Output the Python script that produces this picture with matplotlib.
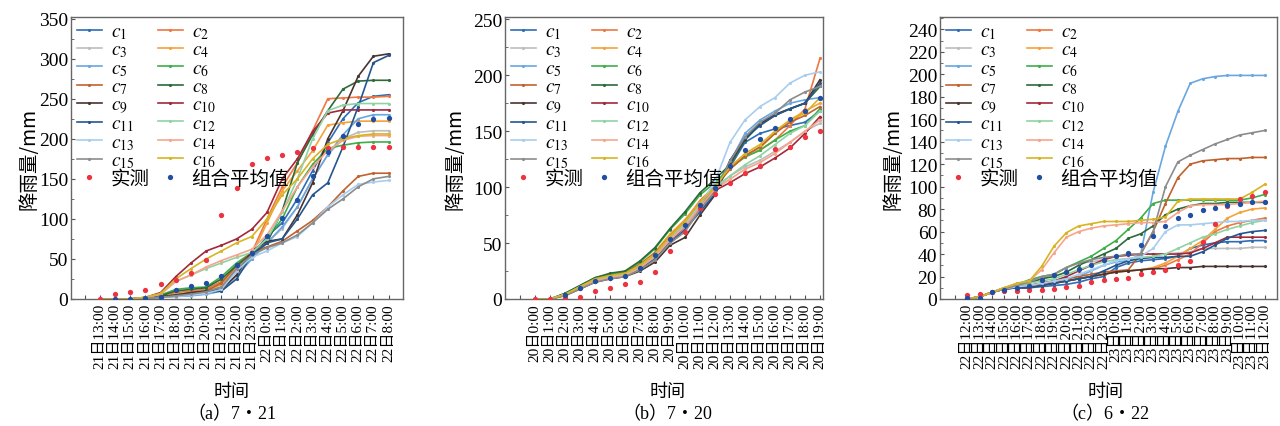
import matplotlib
matplotlib.use("Agg")
import matplotlib.pyplot as plt
from matplotlib.lines import Line2D
from matplotlib.ticker import MultipleLocator
import numpy as np

plt.rcParams['mathtext.fontset'] = 'stix'
plt.rcParams['font.family'] = ['Liberation Serif', 'Noto Sans CJK SC']

# ---------------- data ----------------
series_names = [f"c{i}" for i in range(1, 17)]
series_colors = ['#2f6db5', '#ee7742', '#bdbdbd', '#f5a23a', '#6aa6e0', '#3fae4a',
                 '#c0622d', '#2d6a3a', '#4a3431', '#a3283a', '#24568e', '#8fd3a4',
                 '#a8cdee', '#f6a58c', '#8c8c8c', '#d8b422']

# Panel (a) 7·21 : 21日13:00 ... 22日8:00
labels_a = [f"21日{h}:00" for h in range(13, 24)] + [f"22日{h}:00" for h in range(0, 9)]
obs_a = [0, 6, 9, 11, 19, 24, 32, 49, 105, 138, 169, 176, 180, 184, 188, 189, 190, 190, 190, 190]
mean_a = [None, 0, 0, 1, 3, 11, 16, 20, 29, 43, 58, 79, 101, 124, 153, 184, 204, 218, 225, 226]
sim_a = [
    [0, 0, 0, 1, 3, 5, 7, 9, 15, 35, 55, 78, 95, 125, 160, 195, 225, 245, 253, 255],     # c1
    [0, 0, 0, 1, 4, 8, 10, 12, 22, 40, 58, 100, 140, 170, 210, 250, 251, 252, 252, 253],  # c2
    [0, 0, 0, 1, 2, 3, 5, 6, 10, 28, 50, 70, 88, 115, 150, 180, 200, 208, 210, 210],      # c3
    [0, 0, 0, 1, 3, 6, 8, 10, 18, 38, 55, 95, 135, 160, 185, 217, 220, 222, 222, 222],    # c4
    [0, 0, 0, 1, 2, 3, 4, 6, 10, 30, 50, 70, 90, 115, 150, 180, 205, 225, 230, 230],      # c5
    [0, 0, 0, 2, 5, 12, 14, 15, 28, 45, 58, 75, 100, 140, 168, 188, 192, 195, 196, 196],  # c6
    [0, 0, 0, 1, 3, 5, 8, 10, 20, 42, 58, 65, 72, 85, 98, 115, 135, 153, 157, 157],       # c7
    [0, 0, 0, 2, 4, 10, 12, 14, 25, 42, 56, 70, 110, 170, 205, 235, 262, 272, 273, 273],  # c8
    [0, 0, 0, 1, 3, 5, 8, 10, 12, 30, 60, 72, 75, 105, 145, 200, 235, 278, 303, 306],     # c9
    [0, 0, 0, 2, 8, 28, 45, 60, 67, 75, 87, 108, 150, 175, 209, 232, 236, 236, 236, 236], # c10
    [0, 0, 0, 1, 2, 4, 6, 8, 10, 25, 55, 70, 75, 100, 130, 145, 190, 240, 295, 304],      # c11
    [0, 0, 0, 2, 6, 22, 30, 38, 45, 52, 58, 75, 108, 150, 200, 235, 242, 244, 244, 244],  # c12
    [0, 0, 0, 1, 2, 3, 5, 7, 12, 35, 52, 60, 70, 78, 95, 115, 130, 143, 146, 148],        # c13
    [0, 0, 0, 2, 6, 22, 30, 40, 48, 55, 62, 80, 110, 140, 165, 185, 198, 203, 204, 204],  # c14
    [0, 0, 0, 1, 2, 4, 6, 9, 15, 38, 55, 64, 70, 80, 95, 112, 125, 140, 150, 153],        # c15
    [0, 0, 0, 2, 7, 25, 38, 50, 60, 70, 78, 100, 130, 150, 175, 193, 200, 204, 206, 206], # c16
]

# Panel (b) 7·20 : 20日0:00 ... 20日19:00
labels_b = [f"20日{h}:00" for h in range(0, 20)]
obs_b = [0, 0, 1, 2, 7, 10, 13, 15, 24, 43, 60, 81, 94, 104, 113, 119, 134, 136, 145, 150]
mean_b = [None, None, 4, 10, 16, 19, 21, 28, 39, 54, 66, 84, 99, 119, 133, 143, 153, 161, 168, 180]
sim_b = [
    [0, 0, 4, 10, 17, 20, 22, 29, 40, 55, 67, 85, 100, 118, 140, 148, 152, 155, 158, 168],  # c1
    [0, 0, 4, 11, 18, 21, 23, 30, 41, 57, 70, 88, 101, 117, 127, 133, 142, 155, 170, 215],  # c2
    [0, 0, 4, 10, 16, 19, 21, 27, 37, 52, 63, 80, 97, 110, 118, 124, 132, 140, 150, 157],   # c3
    [0, 0, 4, 11, 18, 21, 23, 31, 42, 58, 71, 87, 101, 116, 128, 135, 148, 160, 168, 175],  # c4
    [0, 0, 4, 10, 17, 20, 22, 29, 39, 54, 66, 83, 99, 122, 148, 160, 168, 175, 178, 180],   # c5
    [0, 0, 5, 12, 19, 22, 24, 33, 45, 62, 76, 93, 104, 117, 127, 133, 142, 150, 155, 170],  # c6
    [0, 0, 4, 11, 18, 21, 23, 31, 41, 56, 69, 86, 100, 116, 128, 136, 148, 158, 164, 172],  # c7
    [0, 0, 5, 12, 19, 23, 25, 34, 46, 63, 78, 95, 107, 120, 142, 156, 164, 170, 175, 190],  # c8
    [0, 0, 3, 9, 15, 18, 20, 25, 33, 48, 55, 75, 93, 122, 143, 157, 165, 170, 175, 196],    # c9
    [0, 0, 4, 10, 16, 19, 21, 28, 38, 52, 65, 82, 97, 104, 112, 118, 126, 135, 148, 163],   # c10
    [0, 0, 4, 10, 16, 19, 21, 27, 36, 50, 62, 78, 94, 124, 144, 155, 164, 170, 175, 193],   # c11
    [0, 0, 4, 11, 17, 20, 22, 30, 40, 55, 68, 86, 100, 110, 120, 128, 138, 148, 155, 168],  # c12
    [0, 0, 4, 10, 16, 19, 21, 28, 38, 53, 66, 84, 105, 140, 160, 172, 180, 193, 200, 203],  # c13
    [0, 0, 4, 10, 16, 19, 21, 28, 38, 53, 65, 82, 98, 107, 116, 122, 130, 140, 150, 160],   # c14
    [0, 0, 3, 9, 15, 18, 20, 26, 35, 50, 60, 80, 96, 123, 145, 158, 166, 178, 185, 190],    # c15
    [0, 0, 4, 11, 18, 21, 23, 30, 40, 56, 69, 86, 100, 118, 130, 138, 150, 160, 166, 180],  # c16
]

# Panel (c) 6·22 : 22日12:00 ... 23日12:00
labels_c = [f"22日{h}:00" for h in range(12, 24)] + [f"23日{h}:00" for h in range(0, 13)]
obs_c = [3.6, 4.5, 6, 7, 7.5, 8, 8, 9, 10.5, 12, 15, 17, 18, 18.5, 22, 24, 26, 30, 34,
         51, 67, 83, 89, 92, 95]
mean_c = [0.5, 1, 6, 8, 10, 12, 17, 21, 24, 27, 30, 35, 38, 41, 48, 56, 65, 72, 75,
          79, 81, 84, 85, 86, 86]
sim_c = [
    [0, 2, 6, 9, 10, 10, 11, 12, 13, 15, 18, 20, 28, 32, 34, 35, 36, 38, 45, 48, 50, 51, 51, 52, 52],       # c1
    [0, 2, 6, 9, 10, 10, 12, 14, 16, 18, 20, 22, 24, 25, 26, 27, 30, 35, 40, 50, 60, 65, 68, 70, 72],       # c2
    [0, 2, 6, 9, 12, 15, 18, 22, 28, 32, 33, 35, 38, 39, 40, 40, 40, 41, 42, 45, 45, 45, 45, 46, 46],       # c3
    [0, 2, 6, 9, 10, 10, 12, 14, 16, 18, 20, 22, 24, 25, 26, 28, 32, 38, 45, 52, 62, 72, 77, 80, 81],       # c4
    [0, 2, 6, 9, 11, 12, 14, 16, 18, 20, 25, 30, 33, 34, 40, 95, 136, 167, 192, 196, 198, 199, 199, 199, 199],  # c5
    [0, 2, 6, 10, 13, 17, 20, 22, 28, 33, 38, 45, 52, 62, 72, 85, 88, 88, 88, 88, 88, 88, 88, 90, 93],      # c6
    [0, 2, 6, 9, 11, 12, 14, 16, 18, 20, 22, 24, 25, 26, 40, 60, 85, 108, 120, 123, 124, 125, 125, 126, 126],  # c7
    [0, 2, 6, 10, 12, 14, 18, 20, 24, 30, 35, 40, 45, 54, 58, 65, 75, 80, 83, 85, 85, 86, 86, 86, 86],      # c8
    [0, 2, 6, 9, 10, 10, 12, 14, 16, 18, 20, 22, 24, 25, 26, 27, 27, 28, 28, 29, 29, 29, 29, 29, 29],       # c9
    [0, 2, 6, 9, 11, 12, 14, 16, 20, 25, 30, 35, 38, 39, 40, 40, 40, 40, 41, 45, 50, 55, 55, 55, 55],       # c10
    [0, 2, 6, 9, 10, 10, 12, 14, 16, 18, 20, 25, 30, 34, 36, 37, 37, 38, 38, 42, 48, 54, 58, 60, 61],       # c11
    [0, 2, 6, 10, 12, 14, 16, 18, 22, 26, 30, 33, 35, 36, 37, 38, 40, 45, 50, 55, 58, 62, 65, 68, 70],      # c12
    [0, 2, 6, 9, 11, 12, 14, 16, 18, 22, 26, 30, 34, 36, 38, 45, 60, 66, 66, 67, 68, 69, 69, 70, 70],       # c13
    [0, 2, 6, 10, 14, 16, 26, 41, 55, 60, 63, 65, 66, 67, 68, 68, 69, 77, 83, 84, 84, 84, 85, 86, 87],      # c14
    [0, 2, 6, 9, 12, 15, 20, 22, 28, 32, 35, 37, 38, 40, 40, 60, 100, 122, 128, 133, 138, 142, 146, 148, 150],  # c15
    [0, 2, 6, 10, 14, 16, 29, 47, 59, 65, 67, 69, 69, 69, 70, 71, 73, 87, 89, 89, 89, 89, 89, 95, 102],     # c16
]

panels = [
    dict(labels=labels_a, obs=obs_a, mean=mean_a, sim=sim_a, ylim=352, ystep=50,
         rect=[71, 18, 403, 300], xlim=(-1.9, 19.95), caption="（a）7・21",
         ylab_x=-0.128, xlab_x=0.485),
    dict(labels=labels_b, obs=obs_b, mean=mean_b, sim=sim_b, ylim=252, ystep=50,
         rect=[505, 18, 823, 300], xlim=(-2.0, 19.2), caption="（b）7・20",
         ylab_x=-0.157, xlab_x=0.51),
    dict(labels=labels_c, obs=obs_c, mean=mean_c, sim=sim_c, ylim=251, ystep=20,
         rect=[940, 18, 1277, 300], xlim=(-2.2, 25.0), caption="（c）6・22",
         ylab_x=-0.139, xlab_x=0.49),
]

W, H = 1280, 427
fig = plt.figure(figsize=(W / 100, H / 100), dpi=100)
cjk = ['Noto Sans CJK SC', 'DejaVu Sans']
OBS_C, MEAN_C = '#ee3340', '#1f4ea3'

for p in panels:
    l, t, r, b = p['rect']
    ax = fig.add_axes([l / W, 1 - b / H, (r - l) / W, (b - t) / H])
    n = len(p['labels'])
    x = np.arange(n)
    for name, col, vals in zip(series_names, series_colors, p['sim']):
        ax.plot(x, vals, color=col, lw=1.2, marker='.', ms=2.5, zorder=2)
    mx = [i for i, v in enumerate(p['mean']) if v is not None]
    my = [v for v in p['mean'] if v is not None]
    ax.plot(x, p['obs'], ls='none', marker='o', ms=3.8, color=OBS_C, mec='none', zorder=4)
    ax.plot(mx, my, ls='none', marker='o', ms=3.8, color=MEAN_C, mec='none', zorder=4)

    ax.set_xlim(*p['xlim'])
    ax.set_ylim(0, p['ylim'])
    ax.yaxis.set_major_locator(MultipleLocator(p['ystep']))
    ax.yaxis.set_minor_locator(MultipleLocator(p['ystep'] / 2))
    ax.set_xticks(np.arange(-1, n))
    ax.set_xticklabels([''] + p['labels'], rotation=90, fontsize=11)
    ax.tick_params(axis='both', direction='in', length=3, width=0.8, color='#555555')
    ax.tick_params(axis='y', which='minor', direction='in', length=2, color='#555555')
    ax.tick_params(axis='y', labelsize=14, pad=2)
    ax.tick_params(axis='x', pad=3)
    for s in ax.spines.values():
        s.set_color('#666666')
        s.set_linewidth(1.0)

    ax.set_ylabel('降雨量/mm', family=cjk, fontsize=14, va='center')
    ax.yaxis.set_label_coords(p['ylab_x'], 0.5)
    ax.text(p['xlab_x'], -0.327, '时间', transform=ax.transAxes, ha='center', va='center',
            family=cjk, fontsize=13)
    ax.text(p['xlab_x'], -0.405, p['caption'], transform=ax.transAxes, ha='center',
            va='center', family=['Liberation Serif', 'Noto Sans CJK SC'], fontsize=13)

    handles = [Line2D([], [], color=c, lw=1.2, marker='.', ms=2.5) for c in series_colors]
    labels = [rf"$c_{{{i}}}$" for i in range(1, 17)]
    col1_h = handles[0::2] + [Line2D([], [], ls='none', marker='o', ms=3.8, color=OBS_C, mec='none')]
    col1_l = labels[0::2] + ['实测']
    col2_h = handles[1::2] + [Line2D([], [], ls='none', marker='o', ms=3.8, color=MEAN_C, mec='none')]
    col2_l = labels[1::2] + ['组合平均值']
    ax.legend(col1_h + col2_h, col1_l + col2_l, ncol=2, loc='upper left',
              frameon=False, handlelength=1.3, handletextpad=0.45,
              columnspacing=0.4, labelspacing=0.0, borderaxespad=0.1, borderpad=0.2,
              prop={'family': ['STIXGeneral', 'Noto Sans CJK SC'], 'size': 14})

fig.savefig('out.png', dpi=100)
